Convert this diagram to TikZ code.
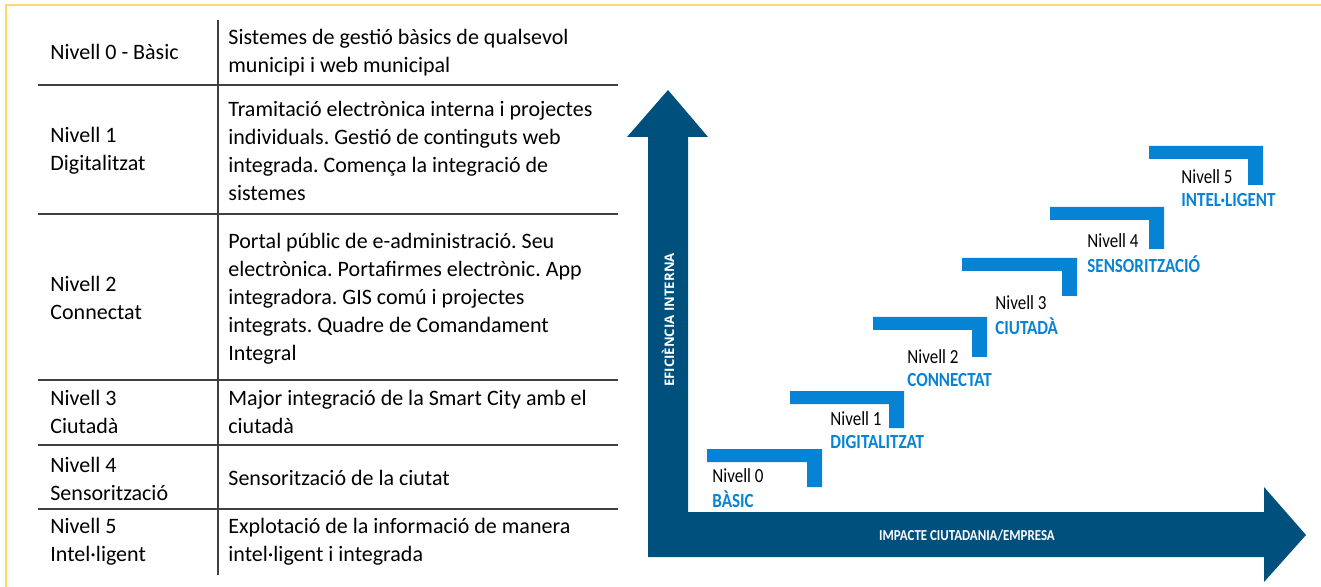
\documentclass[tikz,border=0pt]{standalone}
\usepackage{fontspec}
\setmainfont{Carlito}
\newfontfamily\narrowfont[FakeStretch=0.85]{Carlito}
\newfontfamily\axisfont{Open Sans}
\usepackage{tikz}
\usetikzlibrary{calc}
\definecolor{framegold}{HTML}{FFD966}
\definecolor{arrowblue}{HTML}{00507D}
\definecolor{stepblue}{HTML}{0783D6}
\definecolor{rulegray}{HTML}{404040}
\frenchspacing

\begin{document}
\begin{tikzpicture}[x=0.5pt,y=-0.5pt,
  cell/.style={anchor=west,align=left,inner sep=0pt,font=\fontsize{11}{14}\selectfont},
  rule/.style={draw=rulegray,line width=0.8pt},
  stair/.style={fill=stepblue},
  lvl/.style={anchor=west,inner sep=0pt,font=\narrowfont\fontsize{10}{12}\selectfont},
  lvlname/.style={lvl,text=stepblue,font=\narrowfont\bfseries\fontsize{10}{12}\selectfont}]
\useasboundingbox (0,0) rectangle (1321,587);
\draw[framegold,line width=1pt] (1321,5) -- (6,5) -- (6,587);

% table
\draw[rule] (218,20) -- (218,575);
\foreach \y in {85,214,380,445,509}
  \draw[rule] (38,\y) -- (618,\y);
\node[cell] (lvl0) at (50,52) {Nivell 0 - Bàsic};
\node[cell] (desc0) at (228,53) {Sistemes de gestió bàsics de qualsevol\\municipi i web municipal};
\node[cell] (lvl1) at (50,151) {Nivell 1\\Digitalitzat};
\node[cell] (desc1) at (228,151) {Tramitació electrònica interna i projectes\\individuals. Gestió de continguts web\\integrada. Comença la integració de\\sistemes};
\node[cell] (lvl2) at (50,298) {Nivell 2\\Connectat};
\node[cell] (desc2) at (228,299) {Portal públic de e-administració. Seu\\electrònica. Portafirmes electrònic. App\\integradora. GIS comú i projectes\\integrats. Quadre de Comandament\\Integral};
\node[cell] (lvl3) at (50,412) {Nivell 3\\Ciutadà};
\node[cell] (desc3) at (228,412) {Major integració de la Smart City amb el\\ciutadà};
\node[cell] (lvl4) at (50,479) {Nivell 4\\Sensorització};
\node[cell] (desc4) at (228,478) {Sensorització de la ciutat};
\node[cell] (lvl5) at (50,542) {Nivell 5\\Intel·ligent};
\node[cell] (desc5) at (228,542) {Explotació de la informació de manera\\intel·ligent i integrada};

% axes
\fill[arrowblue] (648,557) -- (648,137) -- (627,137) -- (668,90) -- (708,137) -- (688,137)
  -- (688,512) -- (1264,512) -- (1264,487) -- (1306,535) -- (1264,582) -- (1264,557) -- cycle;
\node[text=white,rotate=90,font=\axisfont\bfseries\fontsize{6.6}{8}\selectfont] (effic) at (668,320) {EFICIÈNCIA INTERNA};
\node[text=white,font=\narrowfont\bfseries\fontsize{7.6}{9}\selectfont] (impact) at (967,536) {IMPACTE CIUTADANIA/EMPRESA};

% stairs
\foreach \l/\t/\r/\b in {707/449/822/487, 790/391/904/428, 873/317/987/357,
                         962/258/1077/296, 1050/207/1164/249, 1149/146/1263/185}
  \fill[stair] (\l,\t) -- (\r,\t) -- (\r,\b) -- (\r-15,\b) -- (\r-15,\t+13) -- (\l,\t+13) -- cycle;
\foreach \i/\x/\y/\name in {0/712/476/BÀSIC, 1/830/419/DIGITALITZAT, 2/907/357/CONNECTAT,
                            3/995/303/CIUTADÀ, 4/1087/241/SENSORITZACIÓ, 5/1181/177/INTEL·LIGENT}
{
  \node[lvl] (n\i) at (\x,\y) {Nivell \i};
  \node[lvlname] (name\i) at (\x,\y+23) {\name};
}
\end{tikzpicture}
\end{document}
